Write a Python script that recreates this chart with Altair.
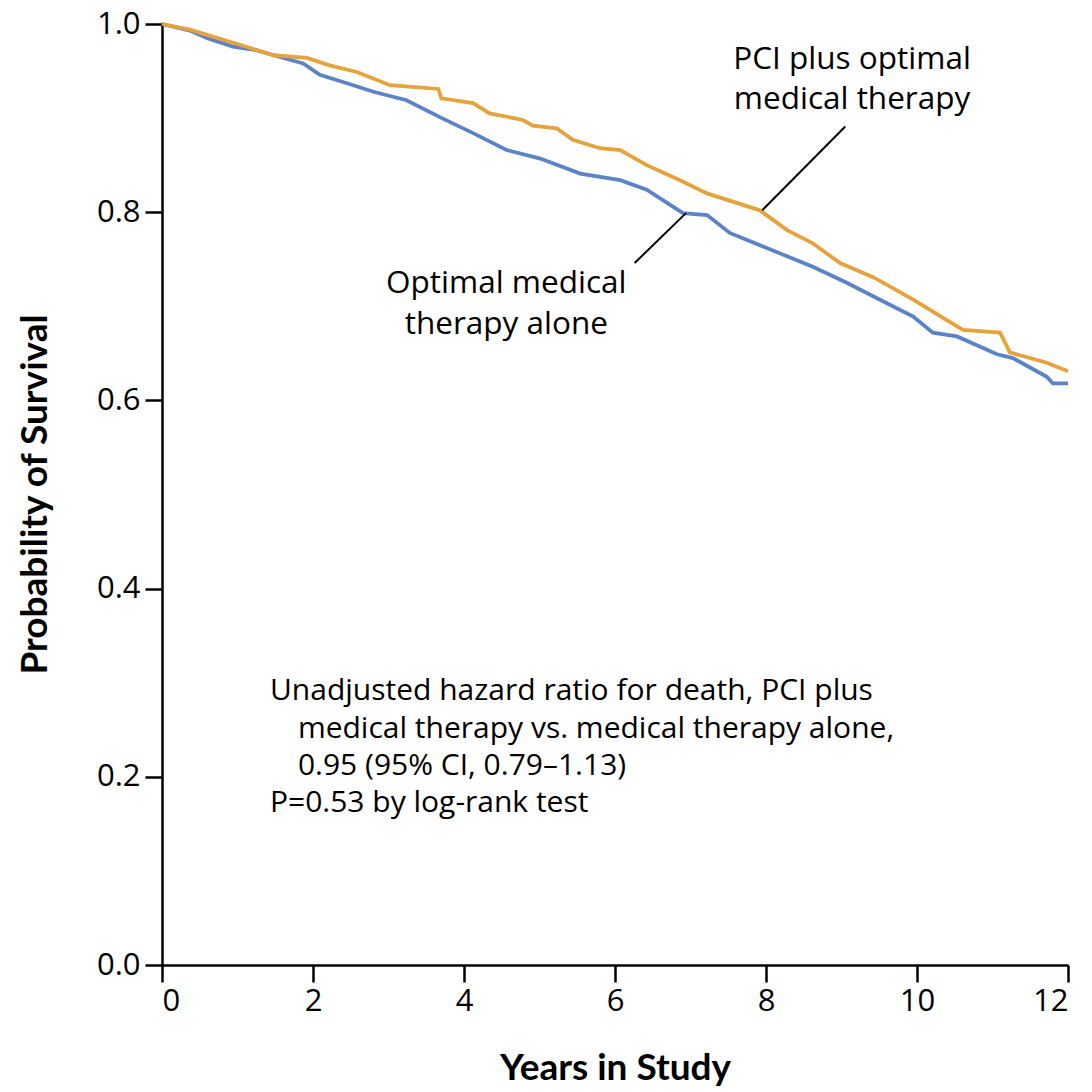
import altair as alt
import pandas as pd

# PCI plus optimal medical therapy (orange)
pci_t = [0, 0.37, 1.03, 1.47, 1.92, 2.22, 2.58, 3.02, 3.66, 3.70, 4.12, 4.34, 4.78, 4.91, 5.23,
         5.44, 5.8, 6.07, 6.42, 6.86, 7.22, 7.92, 8.28, 8.62, 8.98, 9.42, 9.95, 10.4, 10.61,
         11.1, 11.23, 11.72, 12]
pci_s = [1.0, 0.994, 0.978, 0.967, 0.964, 0.956, 0.949, 0.935, 0.931, 0.921, 0.916, 0.905, 0.898,
         0.892, 0.889, 0.877, 0.868, 0.866, 0.850, 0.834, 0.820, 0.802, 0.781, 0.767, 0.746,
         0.731, 0.707, 0.685, 0.675, 0.672, 0.651, 0.640, 0.631]

# Optimal medical therapy alone (blue)
omt_t = [0, 0.37, 0.6, 0.94, 1.26, 1.47, 1.87, 2.09, 2.45, 2.80, 3.24, 3.68, 4.12, 4.57, 5.01,
         5.54, 6.07, 6.42, 6.9, 7.22, 7.52, 8.01, 8.62, 9.07, 9.51, 9.95, 10.21, 10.53, 11.06,
         11.27, 11.72, 11.8, 12]
omt_s = [1.0, 0.993, 0.985, 0.976, 0.972, 0.967, 0.958, 0.946, 0.937, 0.928, 0.919, 0.901, 0.884,
         0.866, 0.857, 0.841, 0.834, 0.824, 0.799, 0.797, 0.778, 0.762, 0.742, 0.725, 0.707,
         0.689, 0.672, 0.668, 0.649, 0.645, 0.625, 0.618, 0.618]

groups = ["Optimal medical therapy alone", "PCI plus optimal medical therapy"]
colors = ["#5B84C8", "#E6A23C"]

x_ticks = [0, 2, 4, 6, 8, 10, 12]
y_ticks = [0.0, 0.2, 0.4, 0.6, 0.8, 1.0]

# annotations
label_text = ["PCI plus optimal", "medical therapy", "Optimal medical", "therapy alone"]
label_x = [9.14, 9.14, 4.56, 4.56]
label_y = [0.962, 0.919, 0.724, 0.680]

leader_x = [9.05, 6.26]
leader_y = [0.891, 0.746]
leader_x2 = [7.95, 6.94]
leader_y2 = [0.802, 0.799]

hr_text = ["Unadjusted hazard ratio for death, PCI plus",
           "medical therapy vs. medical therapy alone,",
           "0.95 (95% CI, 0.79\u20131.13)",
           "P=0.53 by log-rank test"]
hr_x = [1.43, 1.80, 1.80, 1.43]
hr_y = [0.291, 0.251, 0.2115, 0.172]

rows = []
for t, s in zip(omt_t, omt_s):
    rows.append({"t": t, "s": s, "g": groups[0], "o": 0})
for t, s in zip(pci_t, pci_s):
    rows.append({"t": t, "s": s, "g": groups[1], "o": 1})
df = pd.DataFrame(rows)

text_font = "Open Sans"
title_font = "Lato"
xs = alt.Scale(domain=[0, 12], nice=False, zero=False)
ys = alt.Scale(domain=[0, 1], nice=False)

lines = alt.Chart(df).mark_line(strokeWidth=3.8, interpolate="linear").encode(
    x=alt.X("t:Q", scale=xs,
            axis=alt.Axis(values=x_ticks, format="d", title="Years in Study", grid=False,
                          labelFontSize=31, labelFont=text_font, labelColor="black",
                          tickSize=17, tickWidth=2.5, tickColor="black",
                          domainColor="black", domainWidth=2.5, labelPadding=4,
                          titleFont=title_font, titleFontSize=37, titleFontWeight="bold",
                          titleColor="black", titleX=453, titleY=103,
                          titleBaseline="middle", titleAlign="center")),
    y=alt.Y("s:Q", scale=ys,
            axis=alt.Axis(values=y_ticks, format=".1f", title="Probability of Survival",
                          grid=False, labelFontSize=31, labelFont=text_font,
                          labelColor="black", tickSize=17, tickWidth=2.5,
                          tickColor="black", domainColor="black", domainWidth=2.5,
                          labelPadding=5,
                          titleFont=title_font, titleFontSize=37, titleFontWeight="bold",
                          titleColor="black", titleX=-127, titleY=470,
                          titleAngle=270, titleBaseline="middle", titleAlign="center")),
    color=alt.Color("g:N", scale=alt.Scale(domain=groups, range=colors), legend=None),
    detail="g:N",
    order="o:Q",
)

lab_df = pd.DataFrame({"x": label_x, "y": label_y, "text": label_text})
labels = alt.Chart(lab_df).mark_text(font=text_font, fontSize=31.5, color="black",
                                     align="center", baseline="middle").encode(
    x=alt.X("x:Q", scale=xs), y=alt.Y("y:Q", scale=ys), text="text:N")

lead_df = pd.DataFrame({"x": leader_x, "y": leader_y, "x2": leader_x2, "y2": leader_y2})
leaders = alt.Chart(lead_df).mark_rule(color="black", strokeWidth=2).encode(
    x=alt.X("x:Q", scale=xs), y=alt.Y("y:Q", scale=ys), x2="x2:Q", y2="y2:Q")

hr_df = pd.DataFrame({"x": hr_x, "y": hr_y, "text": hr_text})
hr = alt.Chart(hr_df).mark_text(font=text_font, fontSize=30, color="black",
                                align="left", baseline="middle").encode(
    x=alt.X("x:Q", scale=xs), y=alt.Y("y:Q", scale=ys), text="text:N")

chart = alt.layer(lines, leaders, labels, hr).properties(
    width=906, height=941,
    autosize=alt.AutoSizeParams(type="none"),
    padding={"left": 162, "top": 24, "right": 24, "bottom": 127},
    background="white",
).configure_view(stroke=None)

chart.save("out.html", embed_options={"renderer": "svg", "actions": False})
